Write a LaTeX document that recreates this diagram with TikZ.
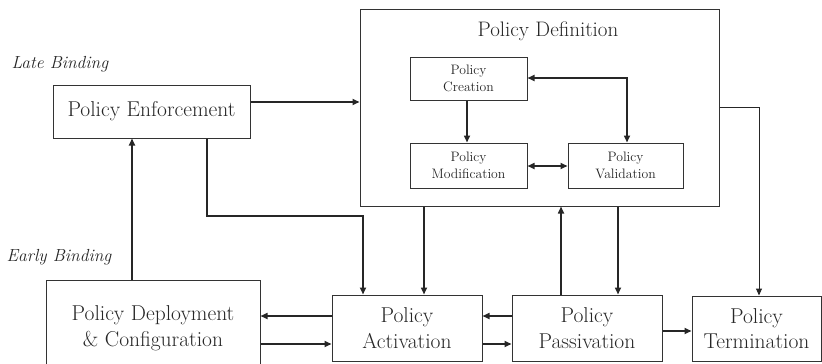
\documentclass[tikz,border=0pt]{standalone}
\usetikzlibrary{arrows.meta}
\begin{document}
\begin{tikzpicture}[x=1pt,y=-1pt,
  ink/.style={draw=black!80,line width=1pt},
  bigbox/.style={ink,rectangle,inner sep=0pt,align=center,text=black!85,
    font=\fontsize{21.5}{25.5}\selectfont},
  smallbox/.style={ink,rectangle,inner sep=0pt,align=center,text=black!85,
    font=\fontsize{13.7}{16.5}\selectfont},
  lbl/.style={text=black!85,font=\fontsize{17.5}{20}\selectfont\itshape,anchor=west},
  arr/.style={draw=black!85,line width=1.6pt,-{Triangle[length=7pt,width=6pt]}},
  darr/.style={draw=black!85,line width=1.6pt,{Triangle[length=7pt,width=6pt]}-{Triangle[length=7pt,width=6pt]}},
  thinarr/.style={draw=black!85,line width=1pt,-{Triangle[length=7pt,width=6pt]}}]
\useasboundingbox (0,0) rectangle (822,364);
\clip (0,0) rectangle (822,364);

% binding labels
\node[lbl] (late) at (8,64) {Late Binding};
\node[lbl] (early) at (3,257) {Early Binding};

% top-level stages
\node[bigbox,minimum width=197pt,minimum height=53pt] (enf) at (151.5,111.5) {Policy Enforcement};
\node[ink,rectangle,minimum width=359pt,minimum height=197pt] (def) at (539.5,107.5) {};
\node[text=black!85,font=\fontsize{21}{25}\selectfont] (deftitle) at (548,31) {Policy Definition};
\node[bigbox,minimum width=214pt,minimum height=96pt] (dep) at (153,328) {Policy Deployment\\ \& Configuration};
\node[bigbox,minimum width=150pt,minimum height=66pt] (act) at (407,328) {Policy\\ Activation};
\node[bigbox,minimum width=150pt,minimum height=66pt] (pas) at (587,328) {Policy\\ Passivation};
\node[bigbox,minimum width=129pt,minimum height=65pt] (term) at (756.5,328.5) {Policy\\ Termination};

% definition sub-stages
\node[smallbox,minimum width=117pt,minimum height=43pt] (cre) at (468.5,78.5) {Policy\\ Creation};
\node[smallbox,minimum width=117pt,minimum height=45pt] (mod) at (468.5,165.5) {Policy\\ Modification};
\node[smallbox,minimum width=115pt,minimum height=45pt] (val) at (625.5,165.5) {Policy\\ Validation};

% connectors inside definition
\draw[arr] (cre.south -| 467,0) -- (mod.north -| 467,0);
\draw[darr] (cre.east |- 0,78) -| (val.north -| 627,0);
\draw[darr] (mod.east |- 0,166) -- (val.west |- 0,166);

% connectors between stages
\draw[arr] (enf.east |- 0,102) -- (def.west |- 0,102);
\draw[arr] (dep.north -| 132,0) -- (enf.south -| 132,0);
\draw[arr] (enf.south -| 207,0) |- (363,216) -- (act.north -| 363,0);
\draw[arr] (def.south -| 424,0) -- (act.north -| 424,0);
\draw[arr] (pas.north -| 561,0) -- (def.south -| 561,0);
\draw[arr] (def.south -| 618,0) -- (pas.north -| 618,0);
\draw[thinarr] (def.east |- 0,107) -| (term.north -| 759,0);
\draw[arr] (act.west |- 0,316) -- (dep.east |- 0,316);
\draw[arr] (dep.east |- 0,344) -- (act.west |- 0,344);
\draw[arr] (pas.west |- 0,316) -- (act.east |- 0,316);
\draw[arr] (act.east |- 0,344) -- (pas.west |- 0,344);
\draw[arr] (pas.east |- 0,331) -- (term.west |- 0,331);
\end{tikzpicture}
\end{document}
